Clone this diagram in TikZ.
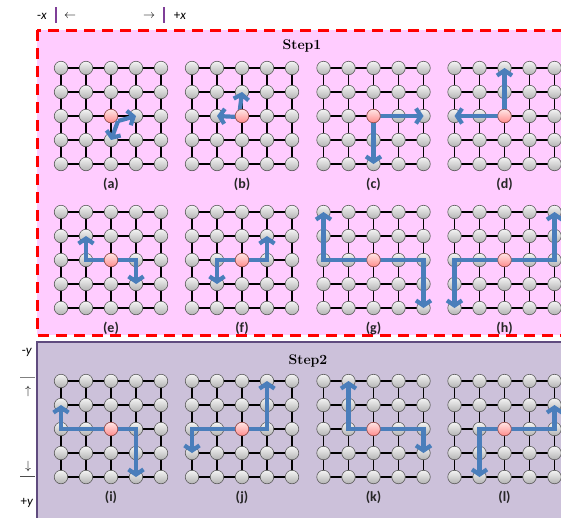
\documentclass[tikz,border=0pt]{standalone}
\usepackage{fontspec}
\newfontfamily\calfont{Carlito}
\usetikzlibrary{arrows.meta}
\definecolor{stepone}{HTML}{FFCCFF}
\definecolor{steponeline}{HTML}{FF0000}
\definecolor{steptwo}{HTML}{CCC1DA}
\definecolor{steptwoline}{HTML}{5F4B7E}
\definecolor{hopblue}{HTML}{4A7EBB}
\definecolor{axisbar}{HTML}{7F3F98}
\pgfdeclarelayer{back}
\pgfdeclarelayer{lines}
\pgfsetlayers{back,lines,main}

\tikzset{
  site/.style={circle,draw=black!65,line width=0.6pt,inner sep=0pt,minimum size=13.5pt,
    top color=gray!8,bottom color=gray!60},
  hub/.style={site,draw=red!45!black!70,top color=red!10,bottom color=red!45},
  wire/.style={black,line width=1.6pt},
  hop/.style={hopblue,line width=4.2pt,>={Straight Barb[length=5pt,width=15pt]}},
  tag/.style={font=\calfont\bfseries\fontsize{14}{16}\selectfont,text=black!85},
  steptitle/.style={font=\bfseries\fontsize{14}{16}\selectfont},
  axislbl/.style={font=\calfont\fontsize{13}{15}\selectfont,inner sep=0pt}
}

% one 5x5 lattice: name, x, y of top left site, label, hops
\newcommand\lattice[5]{%
  \foreach \i in {0,...,4}
    \foreach \j in {0,...,4}
      \node[site] (#1-\i-\j) at (#2+25*\i,#3+24*\j) {};
  \begin{pgfonlayer}{lines}
    \foreach \k in {0,...,4} {
      \draw[wire] (#1-\k-0.center) -- (#1-\k-4.center);
      \draw[wire] (#1-0-\k.center) -- (#1-4-\k.center);
    }
  \end{pgfonlayer}
  #5
  \node[hub] (#1-hub) at (#1-2-2) {};
  \node[tag] (#1-tag) at (#2+50,#3+116) {(#4)};
}

\begin{document}
\begin{tikzpicture}[x=1pt,y=-1pt]
  \useasboundingbox (0,0) rectangle (561,517);

  % step boxes
  \begin{pgfonlayer}{back}
    \fill[white] (0,0) rectangle (561,517);
    \draw[steponeline,fill=stepone,line width=3pt,dash pattern=on 11pt off 7pt]
      (37,30) rectangle (580,335);
    \draw[steptwoline,fill=steptwo,line width=2pt] (37,342) rectangle (580,540);
  \end{pgfonlayer}
  \node[steptitle] (step1) at (302,46) {Step1};
  \node[steptitle] (step2) at (308,361) {Step2};

  % axis hints
  \node[axislbl] (mx) at (42,16) {-\textit{x}};
  \draw[axisbar,line width=1.2pt] (56,7) -- (56,23);
  \node[axislbl] (lx) at (70,16) {$\leftarrow$};
  \node[axislbl] (rx) at (149,16) {$\rightarrow$};
  \draw[axisbar,line width=1.2pt] (164,7) -- (164,23);
  \node[axislbl] (px) at (180,16) {+\textit{x}};
  \node[axislbl] (my) at (27,352) {-\textit{y}};
  \draw[gray,line width=0.8pt] (20,377) -- (35,377);
  \node[axislbl] (uy) at (28,391) {$\uparrow$};
  \node[axislbl] (dy) at (28,466) {$\downarrow$};
  \draw[black!70,line width=0.8pt] (20,476) -- (35,476);
  \node[axislbl] (py) at (27,503) {+\textit{y}};

  % step 1
  \lattice{a}{61}{68}{a}{
    \coordinate (a-fork) at ([xshift=7pt,yshift=-5pt]a-2-2.center);
    \draw[hop,->] (a-fork) -- (a-3-2.center);
    \draw[hop,->] (a-fork) -- (a-2-3.center);}
  \lattice{b}{192}{68}{b}{
    \coordinate (b-fork) at ([xshift=-3pt,yshift=-1pt]b-2-2.center);
    \draw[hop,->] (b-fork) -- (b-2-1.center);
    \draw[hop,->] (b-fork) -- (b-1-2.center);}
  \lattice{c}{323.5}{68}{c}{
    \draw[hop,<->] (c-4-2.center) -- (c-2-2.center) -- (c-2-4.center);}
  \lattice{d}{454.5}{68}{d}{
    \draw[hop,<->] (d-0-2.center) -- (d-2-2.center) -- (d-2-0.center);}
  \lattice{e}{61}{212}{e}{
    \draw[hop,<->] (e-1-1.center) -- (e-1-2.center) -- (e-3-2.center) -- (e-3-3.center);}
  \lattice{f}{192}{212}{f}{
    \draw[hop,<->] (f-1-3.center) -- (f-1-2.center) -- (f-3-2.center) -- (f-3-1.center);}
  \lattice{g}{323.5}{212}{g}{
    \draw[hop,<->] (g-0-0.center) -- (g-0-2.center) -- (g-4-2.center) -- (g-4-4.center);}
  \lattice{h}{454.5}{212}{h}{
    \draw[hop,<->] (h-0-4.center) -- (h-0-2.center) -- (h-4-2.center) -- (h-4-0.center);}

  % step 2
  \lattice{i}{61}{381}{i}{
    \draw[hop,<->] (i-0-1.center) -- (i-0-2.center) -- (i-3-2.center) -- (i-3-4.center);}
  \lattice{j}{192}{381}{j}{
    \draw[hop,<->] (j-0-3.center) -- (j-0-2.center) -- (j-3-2.center) -- (j-3-0.center);}
  \lattice{k}{323.5}{381}{k}{
    \draw[hop,<->] (k-1-0.center) -- (k-1-2.center) -- (k-4-2.center) -- (k-4-3.center);}
  \lattice{l}{454.5}{381}{l}{
    \draw[hop,<->] (l-1-4.center) -- (l-1-2.center) -- (l-4-2.center) -- (l-4-1.center);}
\end{tikzpicture}
\end{document}
